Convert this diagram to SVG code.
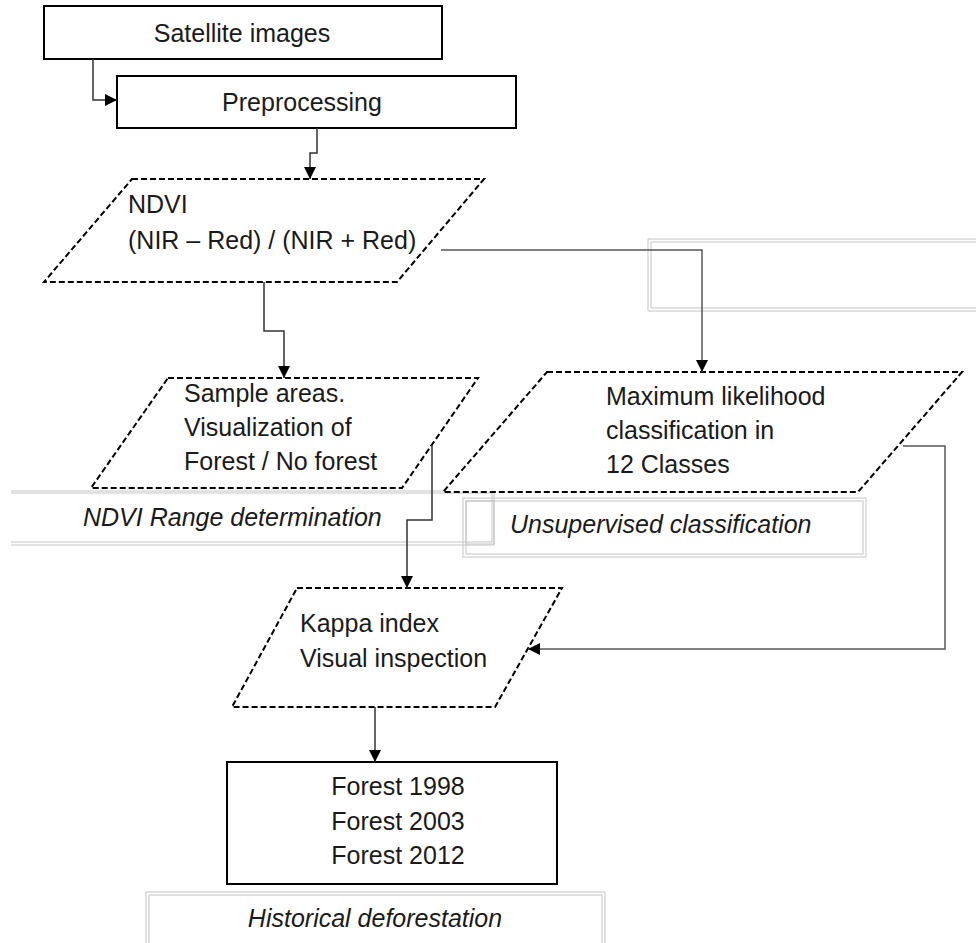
<svg xmlns="http://www.w3.org/2000/svg" width="976" height="943" viewBox="0 0 976 943">
<style>
.box{fill:#fff;stroke:#000;stroke-width:2}
.para{fill:#fff;stroke:#000;stroke-width:2;stroke-dasharray:6 3}
.conn{fill:none;stroke:#333;stroke-width:1.5;marker-end:url(#arr)}
.faint{fill:none;stroke:#c4c4c4;stroke-width:1}
text{font-family:"Liberation Sans",Arial,sans-serif;font-size:25px;fill:#1a1a1a}
.lab{font-style:italic}
</style>
<defs>
<marker id="arr" markerUnits="userSpaceOnUse" markerWidth="12" markerHeight="12" refX="12" refY="6" orient="auto">
<path d="M0,0 L12,6 L0,12 z" fill="#000"/>
</marker>
</defs>
<rect width="976" height="943" fill="#fff"/>

<g id="label-unused">
<path class="faint" d="M648,239 H980 M648,311 H980 M648,239 V311 M651,242 H980 M651,308 H980 M651,242 V308"/>
</g>
<g id="label-ndvi-range">
<path class="faint" d="M11,491 H494 M11,493 H492 M11,542 H492 M11,545 H494 M494,491 V545 M492,493 V542"/>
<text class="lab" x="83" y="526">NDVI Range determination</text>
</g>
<g id="label-unsupervised">
<rect class="faint" x="463" y="498" width="403" height="59"/>
<rect class="faint" x="466" y="501" width="397" height="53"/>
<rect class="faint" x="466" y="501" width="28" height="43"/>
<text class="lab" x="510" y="533">Unsupervised classification</text>
</g>
<g id="label-historical">
<path class="faint" d="M146,950 V892 H605 V950 M149,950 V895 H602 V950"/>
<text class="lab" x="375" y="927" text-anchor="middle">Historical deforestation</text>
</g>

<g id="n-satellite">
<rect class="box" x="44" y="6" width="398" height="53"/>
<text x="242" y="42" text-anchor="middle">Satellite images</text>
</g>
<g id="n-preprocessing">
<rect class="box" x="117" y="76" width="399" height="52"/>
<text x="302" y="111" text-anchor="middle">Preprocessing</text>
</g>
<g id="n-ndvi">
<polygon class="para" points="132,179 484,179 397,282 44,282"/>
<text x="128" y="213">NDVI</text>
<text x="128" y="249">(NIR – Red) / (NIR + Red)</text>
</g>
<g id="n-sample">
<polygon class="para" points="168,378 478,378 402,488 91,488"/>
<text x="184" y="402">Sample areas.</text>
<text x="184" y="436">Visualization of</text>
<text x="184" y="470">Forest / No forest</text>
</g>
<g id="n-maxlik">
<polygon class="para" points="547,372 962,372 858,492 443,492"/>
<text x="606" y="405">Maximum likelihood</text>
<text x="606" y="439">classification in</text>
<text x="606" y="473">12 Classes</text>
</g>
<g id="n-kappa">
<polygon class="para" points="297,588 562,588 495,707 232,707"/>
<text x="300" y="632">Kappa index</text>
<text x="300" y="667">Visual inspection</text>
</g>
<g id="n-forest">
<rect class="box" x="227" y="762" width="330" height="122"/>
<text x="398" y="795" text-anchor="middle">Forest 1998</text>
<text x="398" y="830" text-anchor="middle">Forest 2003</text>
<text x="398" y="864" text-anchor="middle">Forest 2012</text>
</g>

<g id="connectors">
<path class="conn" d="M93,59 V100 H117"/>
<path class="conn" d="M317,128 V153 H310 V179"/>
<path class="conn" d="M264,282 V331 H284 V378"/>
<path class="conn" d="M441,250 H702 V372" style="stroke:#555"/>
<path class="conn" d="M432,445 V520 H407 V588"/>
<path class="conn" d="M903,446 H945 V649 H528" style="stroke:#555"/>
<path class="conn" d="M375,707 V762"/>
</g>
</svg>
